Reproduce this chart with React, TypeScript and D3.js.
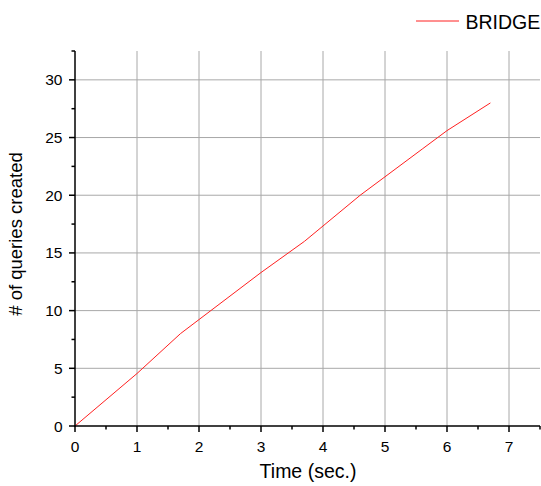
import React from "react";
import * as d3 from "d3";

const timeSec = [0, 1, 1.7, 3, 3.7, 4.6, 5, 5.6, 6, 6.7];
const queriesCreated = [0, 4.55, 8, 13.3, 16, 20, 21.6, 24, 25.6, 28];
const xTicks = [0, 1, 2, 3, 4, 5, 6, 7];
const yTicks = [0, 5, 10, 15, 20, 25, 30];
const xMinor = [0.5, 1.5, 2.5, 3.5, 4.5, 5.5, 6.5, 7.5];
const yMinor = [2.5, 7.5, 12.5, 17.5, 22.5, 27.5, 32.5];
const seriesName = "BRIDGE";

const W = 541;
const H = 486;
const left = 75;
const right = 540;
const top = 51;
const bottom = 426;

export default function App() {
  const x = d3.scaleLinear().domain([0, 7.5]).range([left, right]);
  const y = d3.scaleLinear().domain([0, 32.5]).range([bottom, top]);
  const line = d3
    .line<number>()
    .x((_, i) => x(timeSec[i]))
    .y((d) => y(d));
  const font = "Arial, 'Liberation Sans', sans-serif";
  const grid = "#a8a8a8";
  return (
    <svg
      width={W}
      height={H}
      style={{ position: "absolute", left: 0, top: 0, background: "#fff" }}
      fontFamily={font}
    >
      {xTicks.filter((t) => t > 0).map((t) => (
        <line key={"gx" + t} x1={x(t)} x2={x(t)} y1={top} y2={bottom} stroke={grid} strokeWidth={1} />
      ))}
      {yTicks.filter((t) => t > 0).map((t) => (
        <line key={"gy" + t} x1={left} x2={right} y1={y(t)} y2={y(t)} stroke={grid} strokeWidth={1} />
      ))}
      <path d={line(queriesCreated) || ""} fill="none" stroke="#ff2020" strokeWidth={1} />
      <line x1={left} x2={left} y1={top} y2={bottom + 0.75} stroke="#000" strokeWidth={1.5} />
      <line x1={left - 0.75} x2={right} y1={bottom} y2={bottom} stroke="#000" strokeWidth={1.5} />
      {xTicks.map((t) => (
        <g key={"xt" + t}>
          <line x1={x(t)} x2={x(t)} y1={bottom} y2={bottom + 6} stroke="#000" strokeWidth={1.5} />
          <text x={x(t)} y={bottom + 26} fontSize={15.5} textAnchor="middle" fill="#000">
            {t}
          </text>
        </g>
      ))}
      {xMinor.map((t) => (
        <line key={"xm" + t} x1={x(t)} x2={x(t)} y1={bottom} y2={bottom + 3.5} stroke="#000" strokeWidth={1.5} />
      ))}
      {yTicks.map((t) => (
        <g key={"yt" + t}>
          <line x1={left - 6} x2={left} y1={y(t)} y2={y(t)} stroke="#000" strokeWidth={1.5} />
          <text x={left - 12.5} y={y(t) + 5.5} fontSize={15.5} textAnchor="end" fill="#000">
            {t}
          </text>
        </g>
      ))}
      {yMinor.map((t) => (
        <line key={"ym" + t} x1={left - 3.5} x2={left} y1={y(t)} y2={y(t)} stroke="#000" strokeWidth={1.5} />
      ))}
      <text x={308} y={477.5} fontSize={19.5} textAnchor="middle" fill="#000">
        Time (sec.)
      </text>
      <text
        transform={`translate(22, 234) rotate(-90)`}
        fontSize={18.5}
        textAnchor="middle"
        fill="#000"
      >
        # of queries created
      </text>
      <line x1={416} x2={459} y1={21} y2={21} stroke="#ff2020" strokeWidth={1} />
      <text x={465.5} y={28.5} fontSize={19.5} fill="#000">
        {seriesName}
      </text>
    </svg>
  );
}
